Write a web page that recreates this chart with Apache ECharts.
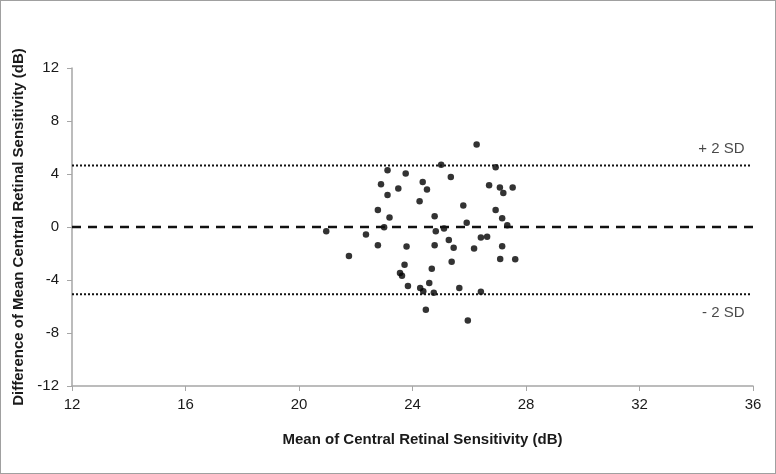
<!DOCTYPE html>
<html>
<head>
<meta charset="utf-8">
<script src="https://cdn.jsdelivr.net/npm/echarts@6/dist/echarts.min.js"></script>
<style>
html,body{margin:0;padding:0;background:#fff;}
#wrap{width:776px;height:474px;box-sizing:border-box;border:1px solid #a0a0a0;}
#chart{width:774px;height:472px;}
</style>
</head>
<body>
<div id="wrap"><div id="chart"></div></div>
<script>
// Mean of central retinal sensitivity (dB)
var meanValues = [26.26,25.01,26.93,23.12,23.76,25.35,24.36,22.89,26.70,27.08,27.53,23.50,24.51,27.20,23.12,24.25,25.79,22.78,26.93,24.78,23.19,27.16,25.91,27.34,23.00,25.11,24.82,20.96,22.36,26.63,26.41,25.28,22.78,24.78,23.79,27.16,25.45,26.17,21.76,27.09,27.62,25.38,23.72,24.68,23.56,23.63,24.59,23.84,25.65,24.27,24.38,24.75,26.41,24.47,25.95];
// Difference of mean central retinal sensitivity (dB)
var diffValues = [6.23,4.69,4.51,4.29,4.04,3.78,3.40,3.23,3.15,2.98,2.98,2.90,2.83,2.57,2.42,1.94,1.62,1.29,1.29,0.81,0.71,0.66,0.33,0.13,-0.02,-0.12,-0.33,-0.33,-0.57,-0.73,-0.80,-0.98,-1.38,-1.38,-1.48,-1.46,-1.56,-1.63,-2.19,-2.42,-2.44,-2.62,-2.84,-3.15,-3.48,-3.67,-4.23,-4.46,-4.61,-4.61,-4.84,-4.96,-4.88,-6.25,-7.05];
var meanDiff = 0;
var upperSD = 4.64;
var lowerSD = -5.07;
var xTicks = [12,16,20,24,28,32,36];
var yTicks = [-12,-8,-4,0,4,8,12];
var sdLabels = ['+ 2 SD', '- 2 SD'];
var sdLabelPos = [[35.70, 5.88], [35.70, -6.45]];

var xMin = xTicks[0], xMax = xTicks[xTicks.length-1];
var points = meanValues.map(function(m,i){ return [m, diffValues[i]]; });
var font = 'Liberation Sans, Arial, sans-serif';

var chart = echarts.init(document.getElementById('chart'));
chart.setOption({
  animation:false,
  backgroundColor:'#fff',
  grid:{left:71,right:22,top:67,bottom:87,containLabel:false},
  xAxis:{
    type:'value',min:xMin,max:xMax,interval:4,
    name:'Mean of Central Retinal Sensitivity (dB)',
    nameLocation:'middle',nameGap:46,
    nameTextStyle:{fontFamily:font,fontSize:15,fontWeight:'bold',color:'#1a1a1a',padding:[0,0,0,20]},
    axisLine:{onZero:false,lineStyle:{color:'#a6a6a6',width:1.5}},
    axisTick:{show:true,length:5,lineStyle:{color:'#a6a6a6',width:1}},
    axisLabel:{fontFamily:font,fontSize:15,color:'#1a1a1a',margin:11},
    splitLine:{show:false}
  },
  yAxis:{
    type:'value',min:yTicks[0],max:yTicks[yTicks.length-1],interval:4,
    name:'Difference of Mean Central Retinal Sensitivity (dB)',
    nameLocation:'middle',nameGap:40,nameRotate:90,
    nameTextStyle:{fontFamily:font,fontSize:15,fontWeight:'bold',color:'#1a1a1a'},
    axisLine:{show:true,onZero:false,lineStyle:{color:'#a6a6a6',width:1.5}},
    axisTick:{show:true,length:5,lineStyle:{color:'#a6a6a6',width:1}},
    axisLabel:{fontFamily:font,fontSize:15,color:'#1a1a1a',margin:13},
    splitLine:{show:false}
  },
  series:[
    {type:'line',data:[[xMin,upperSD],[xMax-0.1,upperSD]],symbol:'none',silent:true,
     lineStyle:{color:'#111',width:2,type:[2,2]}},
    {type:'line',data:[[xMin,lowerSD],[xMax-0.1,lowerSD]],symbol:'none',silent:true,
     lineStyle:{color:'#111',width:2,type:[2,2]}},
    {type:'line',data:[[xMin,meanDiff],[xMax,meanDiff]],symbol:'none',silent:true,
     lineStyle:{color:'#111',width:2.5,type:[9,7]}},
    {type:'scatter',data:points,symbol:'circle',symbolSize:6.5,
     itemStyle:{color:'#000'}},
    {type:'scatter',data:sdLabelPos.map(function(p,i){return {value:p,name:sdLabels[i]};}),
     symbolSize:0,silent:true,
     label:{show:true,position:'left',distance:0,formatter:'{b}',fontFamily:font,fontSize:15,color:'#1a1a1a'}}
  ]
});
</script>
</body>
</html>
